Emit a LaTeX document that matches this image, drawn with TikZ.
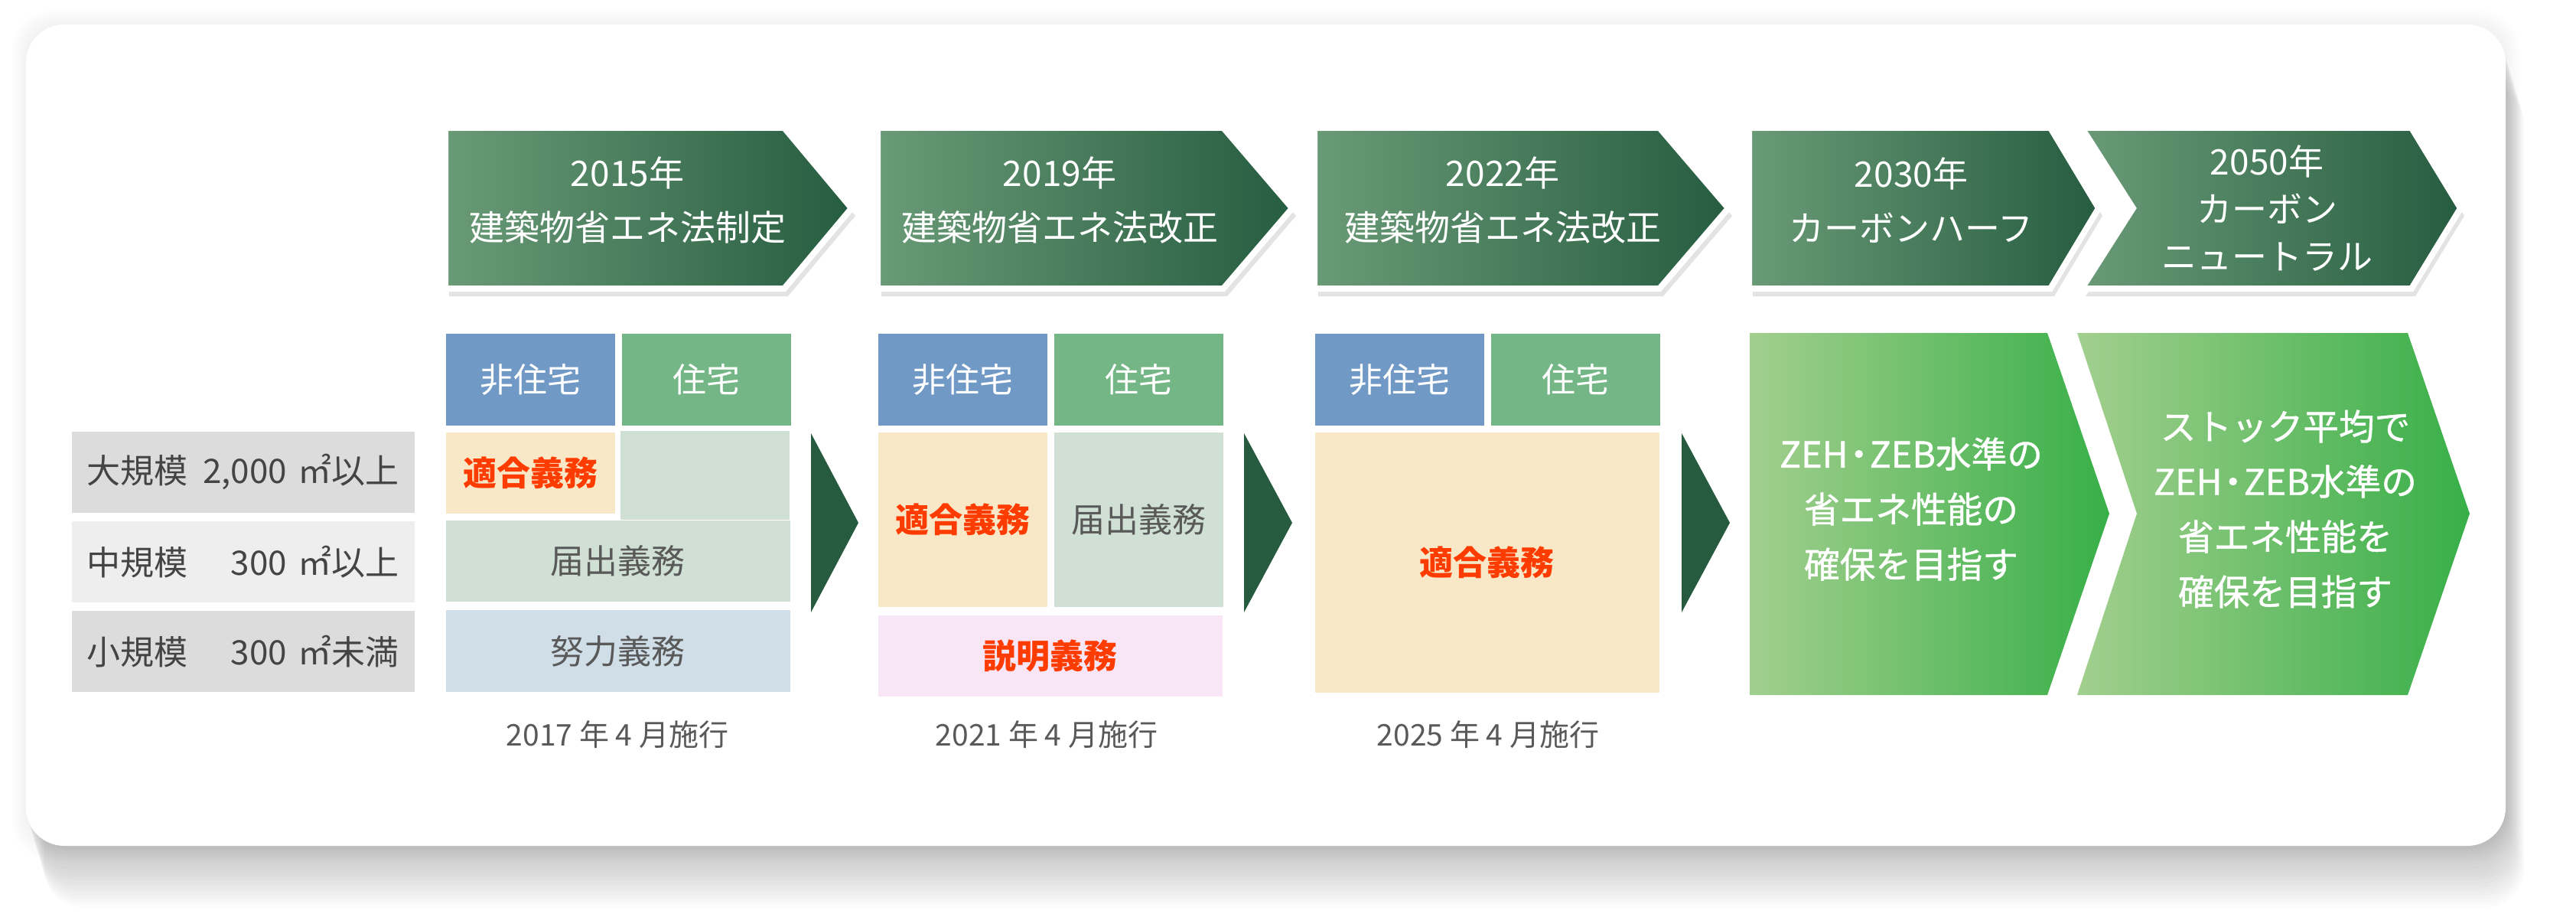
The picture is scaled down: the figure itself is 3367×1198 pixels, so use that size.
\documentclass[tikz,border=0pt]{standalone}
\usepackage{fontspec}
\setmainfont{Noto Sans CJK JP}
\newfontfamily\medfont[FakeBold=0.9]{Noto Sans CJK JP}
\usetikzlibrary{positioning,shadows}

\definecolor{bannerL}{HTML}{6A9B77}
\definecolor{bannerR}{HTML}{265C40}
\definecolor{goalL}{HTML}{A2CF8E}
\definecolor{goalR}{HTML}{38AF48}
\definecolor{arrowdark}{HTML}{265B3F}
\definecolor{nonresblue}{HTML}{7199C6}
\definecolor{resgreen}{HTML}{75B687}
\definecolor{fitfill}{HTML}{F8E8C8}
\definecolor{notifyfill}{HTML}{D0E0D5}
\definecolor{effortfill}{HTML}{D0DEE8}
\definecolor{explainfill}{HTML}{F8E6F6}
\definecolor{rowdark}{HTML}{DCDCDC}
\definecolor{rowlight}{HTML}{EEEEEE}
\definecolor{dutyred}{HTML}{FF3C00}
\definecolor{textdark}{HTML}{444444}
\definecolor{textgray}{HTML}{595959}

\tikzset{
  bannerbox/.style={shade, left color=bannerL, right color=bannerR, draw=white, line width=2.4pt,
    drop shadow={shadow xshift=1.5pt, shadow yshift=-3pt, opacity=0.22}},
  goalbox/.style={shade, left color=goalL, right color=goalR},
  bannertext/.style={text=white, align=center, font=\fontsize{13.8}{21.3}\selectfont},
  goaltext/.style={text=white, align=center, font=\medfont\fontsize{14}{21.6}\selectfont},
  headcell/.style={text=white, minimum width=66.3pt, minimum height=36pt, inner sep=0pt, font=\fontsize{13.2}{16}\selectfont},
  dutycell/.style={minimum width=66.3pt, inner sep=0pt, text=textgray, font=\fontsize{13.2}{16}\selectfont},
  widecell/.style={minimum width=135pt, inner sep=0pt, text=textgray, font=\fontsize{13.2}{16}\selectfont},
  must/.style={text=dutyred, font=\fontsize{13.2}{16}\selectfont\bfseries},
  sizerow/.style={minimum width=134.4pt, minimum height=31.8pt, text width=122.4pt, inner xsep=6pt, inner ysep=0pt,
    text=textdark, font=\fontsize{13.2}{16}\selectfont},
  startnote/.style={text=textgray, font=\fontsize{11.7}{14}\selectfont}
}

\begin{document}
\begin{tikzpicture}[x=0.3pt, y=-0.3pt]
    \useasboundingbox (0,0) rectangle (3367,1198);

    % card with soft shadow
    \foreach \k in {1,...,6}
        \fill[black, opacity=0.006, rounded corners=15pt] ({34-\k*3},{32-\k*3}) rectangle ({3275+\k*3},{1105+\k*3});
    \foreach \k in {1,...,16}
        \fill[black, opacity=0.014, rounded corners=15pt, xshift=\k*0.45pt, yshift=-\k*1.5pt] (34,32) rectangle (3275,1105);
    \fill[white, rounded corners=15pt] (34,32) rectangle (3275,1105);

    % milestone banners
    \path[bannerbox] (582,167) -- (1025,167) -- (1113,272) -- (1025,377) -- (582,377) -- cycle;
    \path[bannerbox] (1147,167) -- (1599,167) -- (1689,272) -- (1599,377) -- (1147,377) -- cycle;
    \path[bannerbox] (1718,167) -- (2169,167) -- (2259,272) -- (2169,377) -- (1718,377) -- cycle;
    \path[bannerbox] (2286,167) -- (2680,167) -- (2743,272) -- (2680,377) -- (2286,377) -- cycle;
    \path[bannerbox] (2721,167) -- (3152,167) -- (3216,272) -- (3152,377) -- (2721,377) -- (2788,272) -- cycle;

    \node (law15) [bannertext] at (820,262) {2015年\\建築物省エネ法制定};
    \node (law19) [bannertext] at (1385,262) {2019年\\建築物省エネ法改正};
    \node (law22) [bannertext] at (1964,262) {2022年\\建築物省エネ法改正};
    \node (half30) [bannertext] at (2498,262) {2030年\\カーボンハーフ};
    \node (neutral50) [bannertext, font=\fontsize{13.8}{18.6}\selectfont] at (2963,272) {2050年\\カーボン\\ニュートラル};

    % building size rows
    \node (large) [sizerow, fill=rowdark, anchor=north west] at (93,563) {大規模\hfill 2,000 ㎡以上};
    \node (medium) [sizerow, fill=rowlight, below=3pt of large] {中規模\hfill 300 ㎡以上};
    \node (small) [sizerow, fill=rowdark, below=3pt of medium] {小規模\hfill 300 ㎡未満};

    % 2015
    \node (nonres15) [headcell, fill=nonresblue, anchor=north west] at (582,435) {非住宅};
    \node (res15) [headcell, fill=resgreen, right=2.4pt of nonres15] {住宅};
    \node (fit15) [dutycell, must, fill=fitfill, minimum height=31.8pt, below=2.4pt of nonres15] {適合義務};
    \fill[notifyfill] (811,563) rectangle (1032,679);
    \node (notify15) [widecell, fill=notifyfill, minimum height=31.8pt, anchor=north west] at (582,679) {届出義務};
    \node (effort15) [widecell, fill=effortfill, minimum height=32.1pt, below=3pt of notify15] {努力義務};
    \node (start15) [startnote] at (807,960) {2017 年 4 月施行};

    % 2019
    \node (nonres19) [headcell, fill=nonresblue, anchor=north west] at (1147,435) {非住宅};
    \node (res19) [headcell, fill=resgreen, right=2.4pt of nonres19] {住宅};
    \node (fit19) [dutycell, must, fill=fitfill, minimum height=68.4pt, below=2.4pt of nonres19] {適合義務};
    \node (notify19) [dutycell, fill=notifyfill, minimum height=68.4pt, right=2.4pt of fit19] {届出義務};
    \node (explain19) [widecell, must, fill=explainfill, minimum height=31.8pt, below=3pt of fit19.south west, anchor=north west] {説明義務};
    \node (start19) [startnote] at (1368,960) {2021 年 4 月施行};

    % 2022
    \node (nonres22) [headcell, fill=nonresblue, anchor=north west] at (1718,435) {非住宅};
    \node (res22) [headcell, fill=resgreen, right=2.4pt of nonres22] {住宅};
    \node (fit22) [widecell, must, fill=fitfill, minimum height=102pt, below=2.4pt of nonres22.south west, anchor=north west] {適合義務};
    \node (start22) [startnote] at (1945,960) {2025 年 4 月施行};

    % step arrows
    \fill[arrowdark] (1060,566) -- (1122,683) -- (1060,800) -- cycle;
    \fill[arrowdark] (1626,566) -- (1689,683) -- (1626,800) -- cycle;
    \fill[arrowdark] (2198,566) -- (2261,683) -- (2198,800) -- cycle;

    % goals
    \path[goalbox] (2287,435) -- (2676,435) -- (2757,671) -- (2676,908) -- (2287,908) -- cycle;
    \path[goalbox] (2715,435) -- (3147,435) -- (3228,671) -- (3147,908) -- (2715,908) -- (2793,671) -- cycle;
    \node (goal30) [goaltext] at (2498,665) {ZEH\kern-.2em・\kern-.2em ZEB水準の\\省エネ性能の\\確保を目指す};
    \node (goal50) [goaltext] at (2987,665) {ストック平均で\\ZEH\kern-.2em・\kern-.2em ZEB水準の\\省エネ性能を\\確保を目指す};

\end{tikzpicture}
\end{document}
